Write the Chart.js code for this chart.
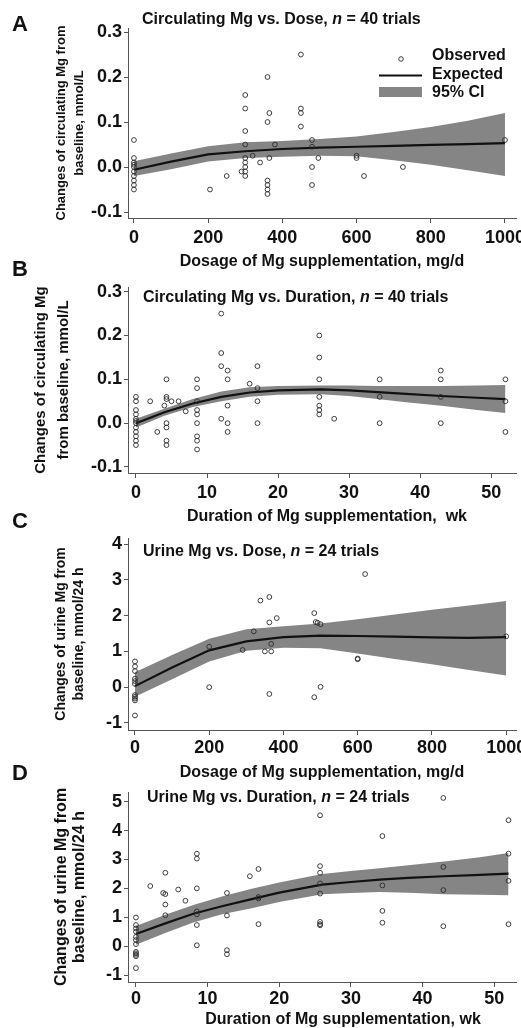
<!DOCTYPE html>
<html>
<head>
<meta charset="utf-8">
<script src="https://cdn.jsdelivr.net/npm/chart.js@4.4.1/dist/chart.umd.min.js"></script>
<style>
  body { margin: 0; background: #fff; }
  #wrap { position: relative; width: 521px; height: 1028px; overflow: hidden; background: #fff; }
  #wrap canvas { position: absolute; left: 0; }
</style>
</head>
<body>
<div id="wrap">
  <canvas id="panelA" width="521" height="280" style="top:0px"></canvas>
  <canvas id="panelB" width="521" height="280" style="top:255px"></canvas>
  <canvas id="panelC" width="521" height="280" style="top:510px"></canvas>
  <canvas id="panelD" width="521" height="263" style="top:765px"></canvas>
</div>
<script>
const FONT = '"Liberation Sans", Arial, Helvetica, sans-serif';
const INK = '#111';
const AXIS = '#555';
const BAND = '#858585';

// tick labels
const doseTicks = [0, 200, 400, 600, 800, 1000];
const weekTicks = [0, 10, 20, 30, 40, 50];
const circTicks = [-0.1, 0, 0.1, 0.2, 0.3];
const urineDoseTicks = [-1, 0, 1, 2, 3, 4];
const urineWeekTicks = [-1, 0, 1, 2, 3, 4, 5];

// A: circulating Mg vs dose (mg/d)
const aObsX = [0, 0, 0, 0, 0, 0, 0, 0, 0, 0, 205, 250, 290, 300, 300, 300, 300, 300, 300, 300, 300, 300,
  320, 340, 360, 360, 360, 360, 360, 360, 365, 365, 380, 450, 450, 450, 450, 480, 480, 480, 480, 497,
  600, 600, 620, 725, 1000];
const aObsY = [0.06, 0.02, 0.01, 0.005, 0, -0.01, -0.02, -0.03, -0.04, -0.05, -0.05, -0.02, -0.01,
  0.16, 0.13, 0.08, 0.05, 0.02, 0.01, 0, -0.01, -0.02, 0.025, 0.01, 0.2, 0.1, -0.03, -0.04, -0.05, -0.06,
  0.12, 0.02, 0.05, 0.25, 0.13, 0.12, 0.09, 0.06, 0.045, 0, -0.04, 0.02, 0.025, 0.02, -0.02, 0, 0.06];
const aFitX = [0, 100, 200, 300, 400, 500, 600, 700, 800, 900, 1000];
const aFit = [-0.006, 0.012, 0.028, 0.035, 0.04, 0.043, 0.045, 0.047, 0.049, 0.051, 0.053];
const aHi = [0.013, 0.03, 0.046, 0.055, 0.058, 0.062, 0.068, 0.078, 0.089, 0.103, 0.12];
const aLo = [-0.02, -0.005, 0.012, 0.02, 0.023, 0.025, 0.024, 0.015, 0.005, -0.007, -0.02];

// B: circulating Mg vs duration (wk)
const bObsX = [0, 0, 0, 0, 0, 0, 0, 0, 0, 0, 0, 0, 2, 3, 4, 4.3, 4.3, 4.3, 4.3, 4.3, 4.3, 4.3, 5, 6, 7,
  8.6, 8.6, 8.6, 8.6, 8.6, 8.6, 8.6, 8.6, 8.6, 12, 12, 12, 12, 12.9, 12.9, 12.9, 12.9, 12.9, 16,
  17.1, 17.1, 17.1, 17.1, 25.8, 25.8, 25.8, 25.8, 25.8, 25.8, 25.8, 27.9, 34.3, 34.3, 34.3,
  42.9, 42.9, 42.9, 42.9, 52, 52, 52];
const bObsY = [0.06, 0.05, 0.03, 0.02, 0.01, 0.005, 0, -0.01, -0.02, -0.03, -0.04, -0.05, 0.05, -0.02, 0.04,
  0.1, 0.06, 0.055, 0, -0.01, -0.04, -0.05, 0.05, 0.05, 0.027,
  0.1, 0.08, 0.05, 0.03, 0.02, 0, -0.03, -0.04, -0.06, 0.25, 0.16, 0.13, 0.01, 0.12, 0.1, 0.04, 0, -0.02, 0.09,
  0.13, 0.08, 0.05, 0, 0.2, 0.15, 0.1, 0.06, 0.04, 0.03, 0.02, 0.01, 0.1, 0.06, 0,
  0.12, 0.1, 0.06, 0, 0.1, 0.05, -0.02];
const bFitX = [0, 4, 8, 12, 16, 20, 26, 30, 34, 38, 43, 48, 52];
const bFit = [0.0, 0.025, 0.045, 0.06, 0.07, 0.075, 0.077, 0.075, 0.071, 0.067, 0.062, 0.058, 0.055];
const bHi = [0.01, 0.033, 0.055, 0.072, 0.082, 0.085, 0.086, 0.086, 0.085, 0.085, 0.085, 0.086, 0.087];
const bLo = [-0.01, 0.017, 0.037, 0.05, 0.06, 0.065, 0.066, 0.062, 0.055, 0.048, 0.04, 0.03, 0.023];

// C: urine Mg vs dose (mg/d)
const cObsX = [0, 0, 0, 0, 0, 0, 0, 0, 0, 0, 0, 200, 200, 290, 320, 338, 350, 362, 362, 362, 367, 367, 382,
  483, 483, 487, 492, 500, 500, 600, 600, 620, 1000];
const cObsY = [0.72, 0.58, 0.45, 0.24, 0.17, 0.09, -0.22, -0.27, -0.32, -0.37, -0.79, 1.13, 0.0, 1.04, 1.56,
  2.42, 1.0, 2.52, 1.81, -0.19, 1.21, 1.0, 1.93, 2.07, -0.28, 1.82, 1.8, 1.76, 0.01, 0.8, 0.78, 3.16, 1.42];
const cFitX = [0, 100, 200, 300, 400, 500, 600, 700, 800, 900, 1000];
const cFit = [0.03, 0.55, 1.03, 1.28, 1.4, 1.44, 1.43, 1.41, 1.39, 1.38, 1.4];
const cHi = [0.42, 0.9, 1.35, 1.62, 1.7, 1.78, 1.9, 2.03, 2.16, 2.28, 2.41];
const cLo = [-0.27, 0.22, 0.72, 1.02, 1.1, 1.09, 0.94, 0.79, 0.64, 0.48, 0.33];

// D: urine Mg vs duration (wk)
const dObsX = [0, 0, 0, 0, 0, 0, 0, 0, 0, 0, 0, 0, 2, 3.8, 4.1, 4.1, 4.1, 4.1, 5.9, 6.9,
  8.5, 8.5, 8.5, 8.5, 8.5, 8.5, 8.5, 12.7, 12.7, 12.7, 12.7, 15.9, 17.1, 17.1, 17.1, 17.1,
  25.7, 25.7, 25.7, 25.7, 25.7, 25.7, 25.7, 25.7, 34.4, 34.4, 34.4, 34.4, 42.9, 42.9, 42.9, 42.9,
  52, 52, 52, 52];
const dObsY = [0.99, 0.73, 0.61, 0.5, 0.32, 0.21, 0.07, -0.2, -0.25, -0.3, -0.35, -0.76, 2.08, 1.84,
  2.54, 1.8, 1.44, 1.07, 1.96, 1.57, 3.2, 3.03, 2.0, 1.2, 1.1, 0.73, 0.03, 1.84, 1.06, -0.14, -0.28, 2.42,
  2.67, 1.65, 1.7, 0.76, 4.53, 2.77, 2.54, 2.17, 1.82, 0.84, 0.76, 0.72, 3.81, 2.1, 1.22, 0.81,
  5.13, 2.74, 1.94, 0.69, 4.36, 3.2, 2.26, 0.76];
const dFitX = [0, 4, 8, 12, 16, 20, 26, 30, 34, 38, 43, 48, 52];
const dFit = [0.42, 0.78, 1.12, 1.38, 1.62, 1.85, 2.13, 2.22, 2.3, 2.36, 2.42, 2.47, 2.51];
const dHi = [0.7, 1.08, 1.42, 1.72, 1.98, 2.2, 2.5, 2.6, 2.7, 2.8, 2.93, 3.08, 3.22];
const dLo = [0.05, 0.45, 0.82, 1.1, 1.3, 1.53, 1.8, 1.84, 1.87, 1.85, 1.8, 1.78, 1.76];

function pts(xs, ys) {
  return xs.map((x, i) => ({ x: x, y: ys[i] }));
}

function bold(size, italic) {
  return (italic ? 'italic ' : '') + 'bold ' + size + 'px ' + FONT;
}

// panel letter, in-plot title with italic n, x-axis title, optional legend
function decorations(p) {
  return {
    id: 'decor' + p.letter,
    afterDraw(chart) {
      const ctx = chart.ctx;
      ctx.save();
      ctx.fillStyle = INK;
      ctx.textBaseline = 'middle';
      ctx.textAlign = 'left';

      ctx.font = bold(22);
      ctx.fillText(p.letter, 12, p.letterY);

      ctx.font = bold(16);
      let x = p.titleX;
      ctx.fillText(p.title[0], x, p.titleY);
      x += ctx.measureText(p.title[0]).width;
      ctx.font = bold(16, true);
      ctx.fillText('n', x, p.titleY);
      x += ctx.measureText('n').width;
      ctx.font = bold(16);
      ctx.fillText(p.title[1], x, p.titleY);

      ctx.textAlign = 'center';
      ctx.fillText(p.xTitle, p.xTitleX, p.xTitleY);

      if (p.legend) {
        ctx.textAlign = 'left';
        ctx.fillText('Observed', 432, 56);
        ctx.fillText('Expected', 432, 75);
        ctx.fillText('95% CI', 432, 93);
        ctx.fillStyle = BAND;
        ctx.fillRect(379, 87, 43, 10);
        ctx.strokeStyle = INK;
        ctx.lineWidth = 2.2;
        ctx.beginPath();
        ctx.moveTo(379, 75.5);
        ctx.lineTo(422, 75.5);
        ctx.stroke();
        ctx.strokeStyle = '#2a2a2a';
        ctx.lineWidth = 0.9;
        ctx.beginPath();
        ctx.arc(401, 59, 2.3, 0, Math.PI * 2);
        ctx.stroke();
      }
      ctx.restore();
    }
  };
}

function makePanel(id, p) {
  const canvas = document.getElementById(id);
  const H = canvas.height;
  const tickFont = { family: FONT, size: 18, weight: 'bold' };
  new Chart(canvas, {
    type: 'line',
    data: {
      datasets: [
        {
          data: pts(p.obsX, p.obsY),
          showLine: false,
          pointRadius: 2.4,
          pointBorderWidth: 0.9,
          pointBorderColor: '#2a2a2a',
          pointBackgroundColor: 'rgba(0,0,0,0)'
        },
        {
          data: pts(p.fitX, p.fit),
          borderColor: INK,
          borderWidth: 2.2,
          pointRadius: 0,
          tension: 0
        },
        {
          data: pts(p.fitX, p.hi),
          borderColor: 'rgba(0,0,0,0)',
          borderWidth: 1,
          pointRadius: 0,
          tension: 0,
          fill: '+1',
          backgroundColor: BAND
        },
        {
          data: pts(p.fitX, p.lo),
          borderColor: 'rgba(0,0,0,0)',
          borderWidth: 1,
          pointRadius: 0,
          tension: 0
        }
      ]
    },
    options: {
      responsive: false,
      animation: false,
      events: [],
      layout: { padding: { left: 0, right: 3, top: p.top, bottom: 0 } },
      plugins: { legend: { display: false }, tooltip: { enabled: false } },
      scales: {
        x: {
          type: 'linear',
          min: p.xMin,
          max: p.xMax,
          afterBuildTicks: s => { s.ticks = p.xTicks.map(v => ({ value: v })); },
          afterFit: s => { s.height = H - p.bottom; s.paddingLeft = 0; s.paddingRight = 0; },
          grid: { drawOnChartArea: false, tickLength: 5, tickColor: AXIS },
          border: { color: AXIS, width: 1 },
          ticks: {
            padding: p.xPad,
            color: INK,
            font: tickFont,
            maxRotation: 0,
            autoSkip: false,
            callback: v => String(v)
          }
        },
        y: {
          min: p.yMin,
          max: p.yMax,
          afterBuildTicks: s => { s.ticks = p.yTicks.map(v => ({ value: v })); },
          afterFit: s => { s.width = 128; s.paddingTop = 0; s.paddingBottom = 0; },
          grid: { drawOnChartArea: false, tickLength: 4, tickColor: AXIS },
          border: { color: AXIS, width: 1 },
          ticks: {
            padding: 2,
            color: INK,
            font: tickFont,
            autoSkip: false,
            callback: v => p.yDigits ? v.toFixed(p.yDigits) : String(v)
          },
          title: {
            display: true,
            text: p.yTitle,
            color: INK,
            font: { family: FONT, size: p.yTitleSize, weight: 'bold', lineHeight: p.yTitleLh / p.yTitleSize },
            padding: { top: p.yTitleX - p.yTitleLh / 2, bottom: 0 }
          }
        }
      }
    },
    plugins: [decorations(p)]
  });
}

makePanel('panelA', {
  letter: 'A', letterY: 25,
  title: ['Circulating Mg vs. Dose, ', ' = 40 trials'], titleX: 142, titleY: 20,
  xTitle: 'Dosage of Mg supplementation, mg/d', xTitleX: 322, xTitleY: 262,
  yTitle: ['Changes of circulating Mg from', 'baseline, mmol/L'], yTitleSize: 13, yTitleLh: 18, yTitleX: 61,
  legend: true,
  obsX: aObsX, obsY: aObsY, fitX: aFitX, fit: aFit, hi: aHi, lo: aLo,
  xTicks: doseTicks, yTicks: circTicks, yDigits: 1,
  xMin: -16, xMax: 1030, yMin: -0.1133, yMax: 0.3089,
  top: 28, bottom: 218, xPad: 4
});

makePanel('panelB', {
  letter: 'B', letterY: 15,
  title: ['Circulating Mg vs. Duration, ', ' = 40 trials'], titleX: 143, titleY: 43,
  xTitle: 'Duration of Mg supplementation,  wk', xTitleX: 327, xTitleY: 262,
  yTitle: ['Changes of circulating Mg', 'from baseline, mmol/L'], yTitleSize: 15, yTitleLh: 23, yTitleX: 41,
  obsX: bObsX, obsY: bObsY, fitX: bFitX, fit: bFit, hi: bHi, lo: bLo,
  xTicks: weekTicks, yTicks: circTicks, yDigits: 1,
  xMin: -1.12, xMax: 53.5, yMin: -0.1137, yMax: 0.3107,
  top: 32, bottom: 218, xPad: 4
});

makePanel('panelC', {
  letter: 'C', letterY: 12,
  title: ['Urine Mg vs. Dose, ', ' = 24 trials'], titleX: 143, titleY: 42,
  xTitle: 'Dosage of Mg supplementation, mg/d', xTitleX: 322, xTitleY: 263,
  yTitle: ['Changes of urine Mg from', 'baseline, mmol/24 h'], yTitleSize: 14, yTitleLh: 18, yTitleX: 61,
  obsX: cObsX, obsY: cObsY, fitX: cFitX, fit: cFit, hi: cHi, lo: cLo,
  xTicks: doseTicks, yTicks: urineDoseTicks, yDigits: 0,
  xMin: -18.8, xMax: 1026.8, yMin: -1.196, yMax: 4.168,
  top: 28, bottom: 220, xPad: 2
});

makePanel('panelD', {
  letter: 'D', letterY: 9,
  title: ['Urine Mg vs. Duration, ', ' = 24 trials'], titleX: 147, titleY: 33,
  xTitle: 'Duration of Mg supplementation, wk', xTitleX: 343, xTitleY: 255,
  yTitle: ['Changes of urine Mg from', 'baseline, mmol/24 h'], yTitleSize: 16, yTitleLh: 18, yTitleX: 62,
  obsX: dObsX, obsY: dObsY, fitX: dFitX, fit: dFit, hi: dHi, lo: dLo,
  xTicks: weekTicks, yTicks: urineWeekTicks, yDigits: 0,
  xMin: -1.11, xMax: 53.06, yMin: -1.242, yMax: 5.336,
  top: 27, bottom: 217, xPad: 1
});
</script>
</body>
</html>
